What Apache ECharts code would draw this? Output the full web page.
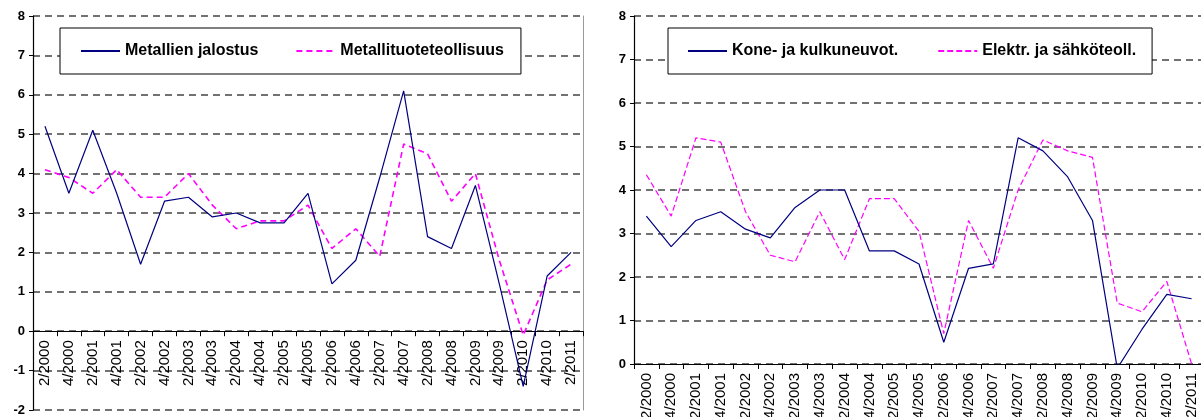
<!DOCTYPE html>
<html>
<head>
<meta charset="utf-8">
<script src="https://cdn.jsdelivr.net/npm/echarts@6/dist/echarts.min.js"></script>
<style>
  html, body { margin: 0; padding: 0; background: #fff; }
  #chart { width: 1201px; height: 417px; }
</style>
</head>
<body>
<div id="chart"></div>
<script>
var quarters = ["2/2000", "4/2000", "2/2001", "4/2001", "2/2002", "4/2002", "2/2003", "4/2003",
    "2/2004", "4/2004", "2/2005", "4/2005", "2/2006", "4/2006", "2/2007", "4/2007",
    "2/2008", "4/2008", "2/2009", "4/2009", "2/2010", "4/2010", "2/2011"];

var metJalostus = [5.2, 3.5, 5.1, 3.5, 1.7, 3.3, 3.4, 2.9, 3.0, 2.75, 2.75, 3.5,
    1.2, 1.8, 3.9, 6.1, 2.4, 2.1, 3.7, 1.2, -1.4, 1.4, 2.0];
var metTuote = [4.1, 3.9, 3.5, 4.1, 3.4, 3.4, 4.0, 3.2, 2.6, 2.8, 2.8, 3.2,
    2.1, 2.6, 1.9, 4.75, 4.5, 3.3, 4.0, 1.8, -0.1, 1.3, 1.7];

var koneKulku = [3.4, 2.7, 3.3, 3.5, 3.1, 2.9, 3.6, 4.0, 4.0, 2.6, 2.6, 2.3,
    0.5, 2.2, 2.3, 5.2, 4.9, 4.3, 3.3, -0.1, 0.8, 1.6, 1.5];
var elektr = [4.35, 3.4, 5.2, 5.1, 3.5, 2.5, 2.35, 3.5, 2.4, 3.8, 3.8, 3.05,
    0.7, 3.3, 2.2, 4.0, 5.15, 4.9, 4.75, 1.4, 1.2, 1.9, 0.0];

var leftNames = ["Metallien jalostus", "Metallituoteteollisuus"];
var rightNames = ["Kone- ja kulkuneuvot.", "Elektr. ja sähköteoll."];

var font = "'Liberation Sans', Arial, sans-serif";
var navy = "#000080";
var pink = "#ff00ff";

// left plot: -2..8 over 394px, so zero sits 2 units above the bottom edge
var leftHeight = 394;
var leftZeroOffset = -leftHeight * 2 / 10;

var myChart = echarts.init(document.getElementById("chart"));

function xAxisFor(grid, offset) {
    return {
        type: "category",
        gridIndex: grid,
        data: quarters,
        boundaryGap: true,
        offset: offset,
        axisLine: { onZero: false, lineStyle: { color: "#000", width: 1 } },
        axisTick: { show: true, length: 5, lineStyle: { color: "#000" } },
        axisLabel: {
            interval: 0,
            rotate: 90,
            margin: 9,
            color: "#000",
            fontFamily: font,
            fontSize: 15
        },
        splitLine: { show: false }
    };
}

function yAxisFor(grid, min, max) {
    return {
        type: "value",
        gridIndex: grid,
        min: min,
        max: max,
        interval: 1,
        axisLine: { show: true, onZero: false, lineStyle: { color: "#000", width: 1.2 } },
        axisTick: { show: true, length: 4, lineStyle: { color: "#000" } },
        axisLabel: {
            color: "#000",
            fontFamily: font,
            fontWeight: "bold",
            fontSize: 13,
            margin: 8
        },
        splitLine: {
            show: true,
            lineStyle: { color: "#444", width: 1.6, type: [7, 5] }
        }
    };
}

function legendFor(names, left, pad, gap) {
    return {
        data: names,
        left: left,
        top: 28,
        orient: "horizontal",
        backgroundColor: "#fff",
        borderColor: "#000",
        borderWidth: 1,
        padding: pad,
        itemGap: gap,
        itemWidth: 39,
        itemHeight: 14,
        itemStyle: { color: "rgba(0,0,0,0)", borderWidth: 0 },
        textStyle: {
            color: "#000",
            fontFamily: font,
            fontWeight: "bold",
            fontSize: 16
        }
    };
}

var option = {
    backgroundColor: "#fff",
    animation: false,
    grid: [
        { left: 33, top: 16, width: 550, height: leftHeight, outerBoundsMode: "none" },
        { left: 634, top: 16, width: 570, height: 348, outerBoundsMode: "none" }
    ],
    legend: [
        legendFor(leftNames, 60, [15, 17, 15, 20], 37),
        legendFor(rightNames, 668, [15, 16, 15, 19], 39)
    ],
    xAxis: [xAxisFor(0, leftZeroOffset), xAxisFor(1, 0)],
    yAxis: [
        yAxisFor(0, -2, 8),
        yAxisFor(1, 0, 8),
        {
            // right-hand frame of the left plot
            type: "value",
            gridIndex: 0,
            position: "right",
            min: -2,
            max: 8,
            axisLine: { show: true, onZero: false, lineStyle: { color: "#999", width: 1 } },
            axisTick: { show: false },
            axisLabel: { show: false },
            splitLine: { show: false }
        }
    ],
    series: [
        {
            name: leftNames[0],
            type: "line",
            xAxisIndex: 0,
            yAxisIndex: 0,
            data: metJalostus,
            symbol: "none",
            lineStyle: { color: navy, width: 1.2 },
            itemStyle: { color: navy },
            z: 3
        },
        {
            name: leftNames[1],
            type: "line",
            xAxisIndex: 0,
            yAxisIndex: 0,
            data: metTuote,
            symbol: "none",
            lineStyle: { color: pink, width: 1.6, type: [6, 4] },
            itemStyle: { color: pink },
            z: 2
        },
        {
            name: rightNames[0],
            type: "line",
            xAxisIndex: 1,
            yAxisIndex: 1,
            data: koneKulku,
            symbol: "none",
            clip: true,
            lineStyle: { color: navy, width: 1.2 },
            itemStyle: { color: navy },
            z: 3
        },
        {
            name: rightNames[1],
            type: "line",
            xAxisIndex: 1,
            yAxisIndex: 1,
            data: elektr,
            symbol: "none",
            clip: true,
            lineStyle: { color: pink, width: 1.2, type: [6, 3] },
            itemStyle: { color: pink },
            z: 2
        }
    ]
};

myChart.setOption(option);
window.addEventListener("resize", function () {
    myChart.resize();
});
</script>
</body>
</html>
